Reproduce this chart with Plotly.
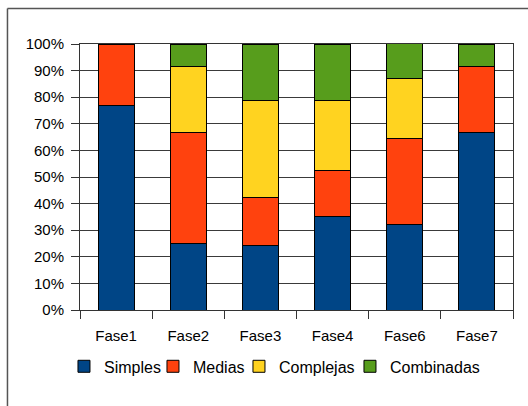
import plotly.graph_objects as go

categories = ["Fase1", "Fase2", "Fase3", "Fase4", "Fase6", "Fase7"]
simples = [0.77, 0.25, 0.242, 0.351, 0.323, 0.667]
medias = [0.23, 0.417, 0.182, 0.175, 0.323, 0.25]
complejas = [0.0, 0.25, 0.364, 0.263, 0.226, 0.0]
combinadas = [0.0, 0.083, 0.212, 0.211, 0.129, 0.083]

series = [
    ("Simples", simples, "#004586", 44),
    ("Medias", medias, "#ff420e", 41),
    ("Complejas", complejas, "#ffd320", 66),
    ("Combinadas", combinadas, "#579d1c", 95),
]

FONT = "Liberation Sans, Arial, sans-serif"

fig = go.Figure()
for name, vals, color, lw in series:
    fig.add_trace(go.Bar(
        x=categories, y=vals, name=name, width=0.5, legendwidth=lw,
        marker=dict(color=color, line=dict(color="#000000", width=1)),
    ))

border = dict(color="#555555", width=1.5)
fig.update_layout(
    barmode="stack",
    width=528, height=406,
    margin=dict(l=80, r=15, t=44, b=96, pad=0),
    paper_bgcolor="white", plot_bgcolor="white",
    font=dict(family=FONT, size=15, color="#000000"),
    showlegend=True,
    legend=dict(orientation="h", x=-0.037, xanchor="left", y=-0.212, yanchor="middle",
                font=dict(size=16), traceorder="normal", itemwidth=30),
    xaxis=dict(showgrid=False, showline=True, linecolor="#333333", mirror=True,
               ticks="outside", ticklen=8, tickcolor="#333333", tickson="boundaries",
               ticklabelstandoff=12, tickfont=dict(size=15)),
    yaxis=dict(range=[0, 1], dtick=0.1, tickformat=".0%", showgrid=True,
               gridcolor="#3a3a3a", gridwidth=1, showline=True, linecolor="#333333",
               mirror=True, ticks="outside", ticklen=8, tickcolor="#333333",
               ticklabelstandoff=4, zeroline=False, tickfont=dict(size=15)),
    shapes=[
        dict(type="line", xref="paper", yref="paper", x0=-0.1675, x1=-0.1675,
             y0=-0.5, y1=1.1335, line=border, layer="below"),
        dict(type="line", xref="paper", yref="paper", x0=-0.1675, x1=1.2,
             y0=1.1335, y1=1.1335, line=border, layer="below"),
    ],
)

fig.write_html("out.html", config={"displayModeBar": False},
               post_script="document.body.style.margin='0';document.body.style.overflow='hidden';")
